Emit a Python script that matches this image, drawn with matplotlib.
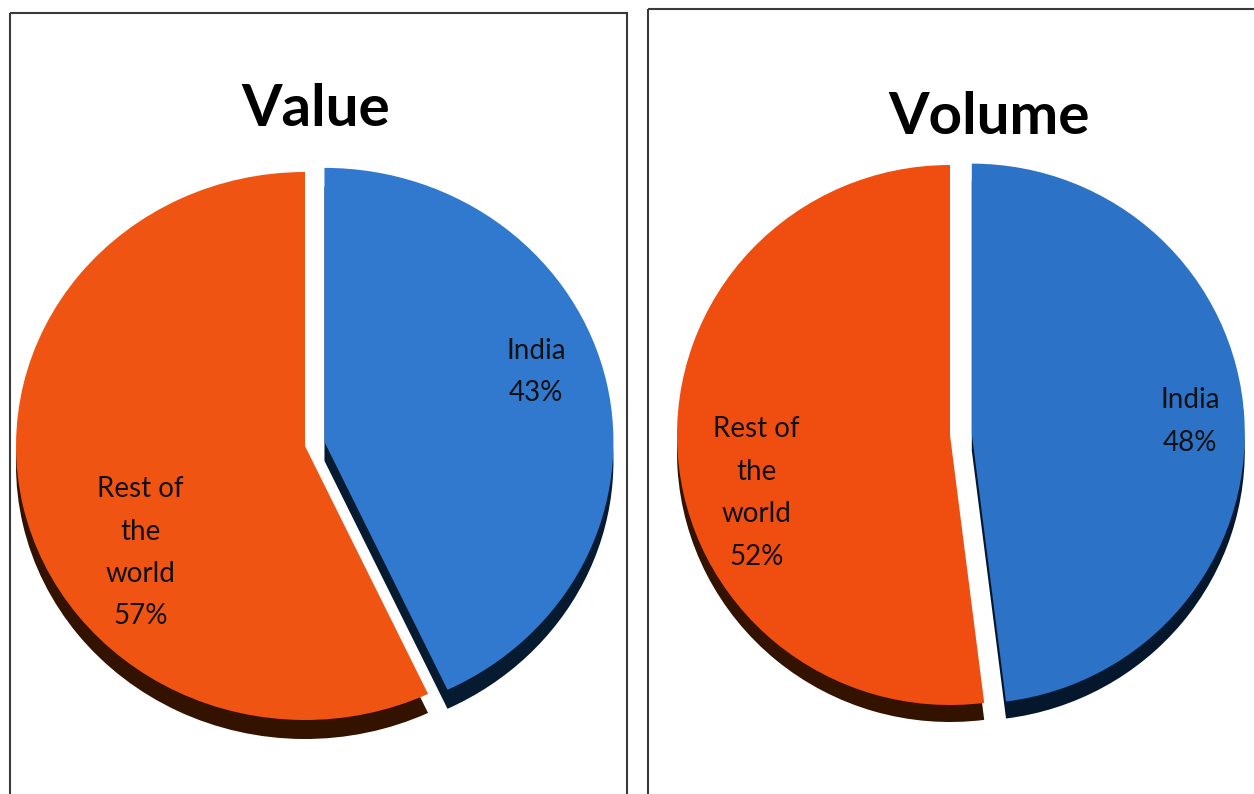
import matplotlib.pyplot as plt
from matplotlib.patches import Rectangle

plt.rcParams['font.family'] = ['Lato', 'DejaVu Sans']

# DATA
categories = ['India', 'Rest of\nthe\nworld']
value_share = [43, 57]
volume_share = [48, 52]
titles = ['Value', 'Volume']

colors_top = [['#3179CE', '#F05413'], ['#2C72C7', '#F04E11']]
colors_side = [['#061A30', '#331200'], ['#05172C', '#331200']]

W, H = 1254, 794
fig = plt.figure(figsize=(W / 100, H / 100), dpi=100)

# background axes in pixel coordinates (panel frames + titles)
bg = fig.add_axes([0, 0, 1, 1])
bg.set_xlim(0, W)
bg.set_ylim(H, 0)
bg.axis('off')
bg.add_patch(Rectangle((10, 13), 617, 800, fill=False, ec='#3a3a3a', lw=1.5))
bg.add_patch(Rectangle((648, 9), 640, 800, fill=False, ec='#3a3a3a', lw=1.5))
bg.text(316, 110, titles[0], ha='center', va='center', fontsize=42, fontweight='bold')
bg.text(989, 118, titles[1], ha='center', va='center', fontsize=42, fontweight='bold')

# pie geometry in pixels: centre x, centre y, radius x, radius y, depth, explode
pies = [
    dict(vals=value_share, cx=305, cy=446, rx=289, ry=274, depth=19, expl=0.069,
         lab_pos=[(0.80, 0.27), (-0.57, -0.39)]),
    dict(vals=volume_share, cx=950, cy=435, rx=273, ry=270, depth=17, expl=0.08,
         lab_pos=[(0.88, 0.05), (-0.71, -0.215)]),
]

for i, p in enumerate(pies):
    lim = 1.2
    w, h = 2 * lim * p['rx'], 2 * lim * p['ry']
    ax = fig.add_axes([(p['cx'] - w / 2) / W, (H - p['cy'] - h / 2) / H, w / W, h / H])
    ex = [p['expl'], 0]
    d = p['depth'] / p['ry']
    # dark copy shifted down gives the 3D depth
    ax.pie(p['vals'], colors=colors_side[i], startangle=90, counterclock=False,
           explode=ex, center=(0, -d), wedgeprops=dict(linewidth=0))
    ax.pie(p['vals'], colors=colors_top[i], startangle=90, counterclock=False,
           explode=ex, center=(0, 0), wedgeprops=dict(linewidth=0))
    ax.set_aspect('auto')
    ax.set_xlim(-lim, lim)
    ax.set_ylim(-lim, lim)
    ax.axis('off')
    for cat, v, (lx, ly) in zip(categories, p['vals'], p['lab_pos']):
        ax.text(lx, ly, f'{cat}\n{v}%', ha='center', va='center', fontsize=20,
                linespacing=1.78, color='#111111')

fig.savefig('out.png', dpi=100)
